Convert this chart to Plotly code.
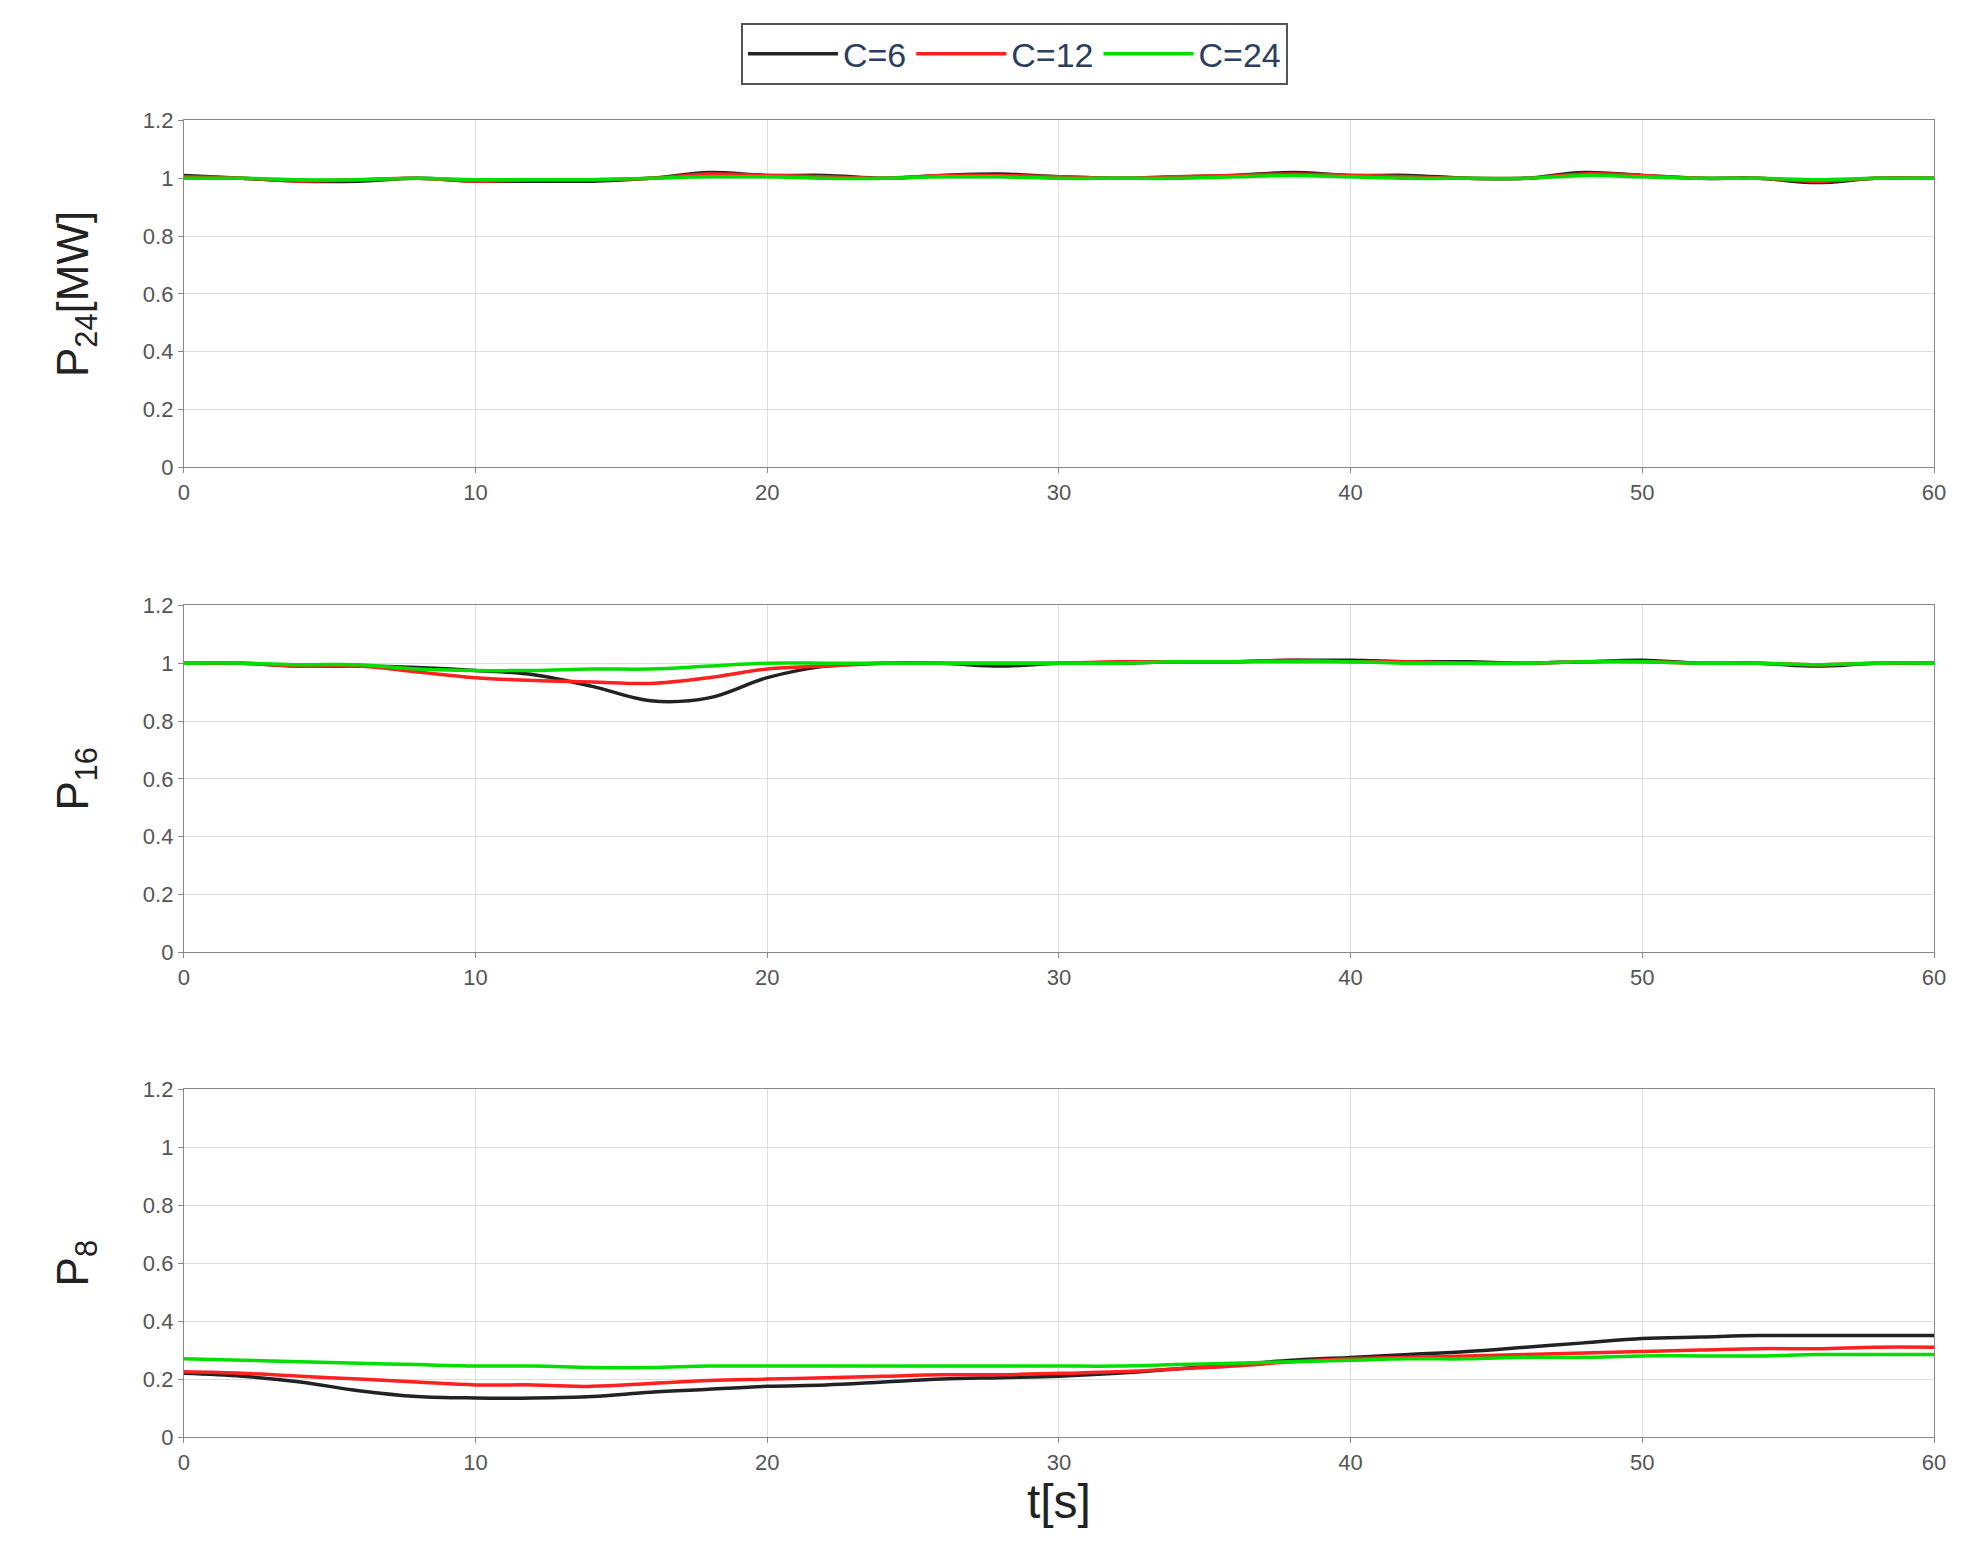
import plotly.graph_objects as go

t = list(range(0, 61, 2))
series_names = ["C=6", "C=12", "C=24"]
colors = ["#222222", "#ff2020", "#00e000"]

p24_c6 = [1.01,1.0,0.99,0.99,1.0,0.99,0.99,0.99,1.0,1.02,1.01,1.01,1.0,1.01,1.015,1.005,1.0,1.005,1.01,1.02,1.01,1.01,1.0,1.0,1.02,1.01,1.0,1.0,0.985,1.0,1.0]
p24_c12 = [1.005,1.0,0.99,0.995,1.0,0.99,0.995,0.995,1.0,1.015,1.01,1.005,1.0,1.01,1.01,1.005,1.0,1.005,1.01,1.015,1.01,1.005,1.0,1.0,1.015,1.01,1.0,1.0,0.99,1.0,1.0]
p24_c24 = [1.0,1.0,0.995,0.995,1.0,0.995,0.995,0.995,1.0,1.005,1.005,1.0,1.0,1.005,1.005,1.0,1.0,1.0,1.005,1.01,1.005,1.0,1.0,1.0,1.01,1.005,1.0,1.0,0.995,1.0,1.0]

p16_c6 = [1.0,1.0,0.99,0.99,0.985,0.975,0.96,0.92,0.87,0.88,0.95,0.99,1.0,1.0,0.99,1.0,1.0,1.005,1.005,1.01,1.01,1.005,1.005,1.0,1.005,1.01,1.0,1.0,0.99,1.0,1.0]
p16_c12 = [1.0,1.0,0.99,0.99,0.97,0.95,0.94,0.935,0.93,0.95,0.98,0.99,1.0,1.0,1.0,1.0,1.005,1.005,1.005,1.01,1.005,1.005,1.0,1.0,1.005,1.005,1.0,1.0,0.995,1.0,1.0]
p16_c24 = [1.0,1.0,0.995,0.995,0.98,0.975,0.975,0.98,0.98,0.99,1.0,1.0,1.0,1.0,1.0,1.0,1.0,1.005,1.005,1.005,1.005,1.0,1.0,1.0,1.005,1.005,1.0,1.0,0.995,1.0,1.0]

p8_c6 = [0.22,0.21,0.19,0.16,0.14,0.135,0.135,0.14,0.155,0.165,0.175,0.18,0.19,0.2,0.205,0.21,0.22,0.235,0.25,0.265,0.275,0.285,0.295,0.31,0.325,0.34,0.345,0.35,0.35,0.35,0.35]
p8_c12 = [0.225,0.22,0.21,0.2,0.19,0.18,0.18,0.175,0.185,0.195,0.2,0.205,0.21,0.215,0.215,0.22,0.225,0.235,0.245,0.26,0.27,0.275,0.28,0.285,0.29,0.295,0.3,0.305,0.305,0.31,0.31]
p8_c24 = [0.27,0.265,0.26,0.255,0.25,0.245,0.245,0.24,0.24,0.245,0.245,0.245,0.245,0.245,0.245,0.245,0.245,0.25,0.255,0.26,0.265,0.27,0.27,0.275,0.275,0.28,0.28,0.28,0.285,0.285,0.285]

panels = [
    ([p24_c6, p24_c12, p24_c24], "P<sub>24</sub>[MW]", [0.7094, 0.9347]),
    ([p16_c6, p16_c12, p16_c24], "P<sub>16</sub>", [0.3943, 0.6196]),
    ([p8_c6, p8_c12, p8_c24], "P<sub>8</sub>", [0.0792, 0.3053]),
]

fig = go.Figure()
for i, (data, title, dom) in enumerate(panels):
    k = "" if i == 0 else str(i + 1)
    for j, ys in enumerate(data):
        fig.add_trace(go.Scatter(x=t, y=ys, mode="lines", name=series_names[j],
                                 line=dict(color=colors[j], width=3.5, shape="spline"),
                                 showlegend=(i == 0), xaxis="x" + k, yaxis="y" + k))
    axstyle = dict(showgrid=True, gridcolor="#dddddd", linecolor="#888888", mirror=True,
                   showline=True, ticks="outside", tickcolor="#888888", zeroline=False,
                   tickfont=dict(size=22, color="#555555", family="Liberation Sans"))
    fig.layout["xaxis" + k] = dict(domain=[0.0869, 0.9826], range=[0, 60], dtick=10,
                                   anchor="y" + k, **axstyle)
    fig.layout["yaxis" + k] = dict(domain=dom, range=[0, 1.2], dtick=0.2, anchor="x" + k,
                                   title=dict(text=title, font=dict(size=44, color="#222", family="Liberation Sans"), standoff=40),
                                   **axstyle)
fig.layout["xaxis3"].title = dict(text="t[s]", font=dict(size=48, color="#222", family="Liberation Sans"), standoff=5)

fig.update_layout(width=1972, height=1564, margin=dict(l=0, r=0, t=0, b=0),
                  plot_bgcolor="white", paper_bgcolor="white",
                  legend=dict(orientation="h", x=0.512, y=0.998, xanchor="center", yanchor="top",
                              bordercolor="#555", borderwidth=2, font=dict(size=34, family="Liberation Sans"),
                              itemwidth=90))
fig.write_html("out.html")
